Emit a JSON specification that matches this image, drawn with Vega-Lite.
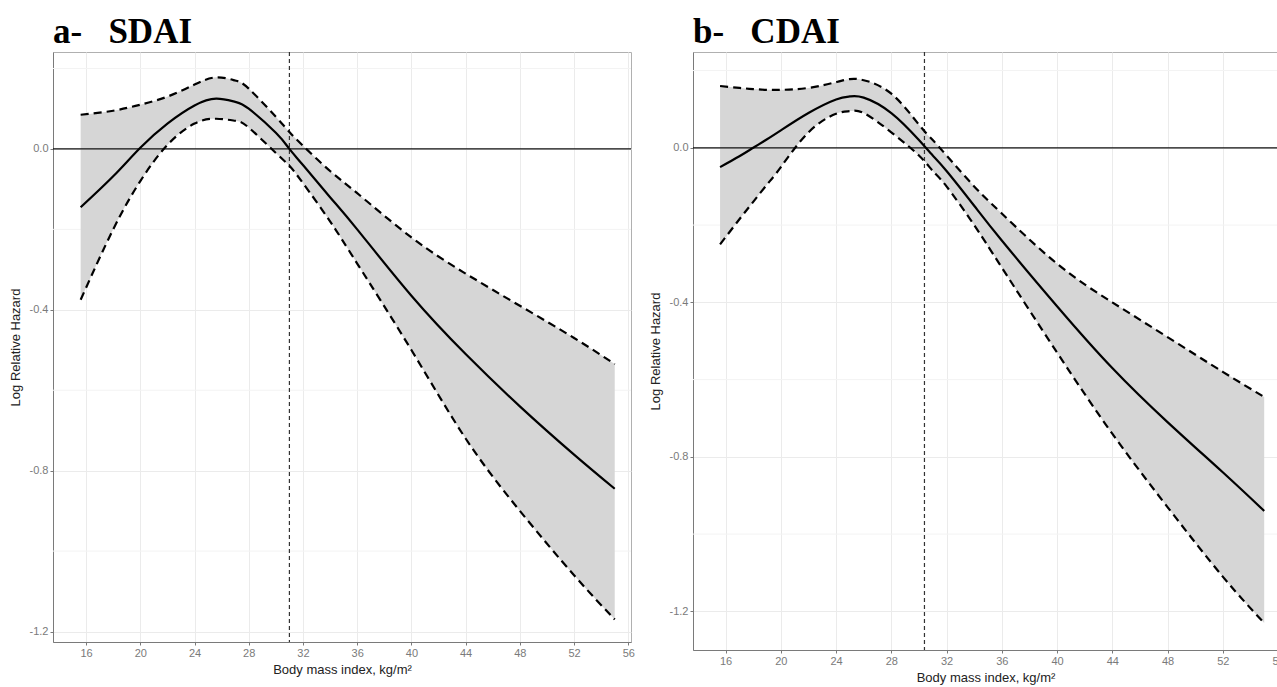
{
  "$schema": "https://vega.github.io/schema/vega-lite/v6.json",
  "background": "white",
  "padding": {"left": 8, "top": 14, "right": 0, "bottom": 0},
  "spacing": 13,
  "datasets": {
    "sdai": [
      {"bmi": 15.6, "est": -0.145, "lo": -0.375, "hi": 0.085},
      {"bmi": 18, "est": -0.068, "lo": -0.2, "hi": 0.095},
      {"bmi": 20, "est": 0.003, "lo": -0.08, "hi": 0.11},
      {"bmi": 22, "est": 0.063, "lo": 0.01, "hi": 0.13},
      {"bmi": 24, "est": 0.108, "lo": 0.063, "hi": 0.16},
      {"bmi": 25.6, "est": 0.125, "lo": 0.075, "hi": 0.178},
      {"bmi": 27, "est": 0.117, "lo": 0.07, "hi": 0.17},
      {"bmi": 28, "est": 0.1, "lo": 0.053, "hi": 0.15},
      {"bmi": 30, "est": 0.04, "lo": -0.01, "hi": 0.08},
      {"bmi": 31, "est": 0.0, "lo": -0.042, "hi": 0.042},
      {"bmi": 32, "est": -0.04, "lo": -0.085, "hi": 0.008},
      {"bmi": 34, "est": -0.12, "lo": -0.18, "hi": -0.055},
      {"bmi": 36, "est": -0.2, "lo": -0.285, "hi": -0.11},
      {"bmi": 40, "est": -0.365, "lo": -0.5, "hi": -0.22},
      {"bmi": 44, "est": -0.51, "lo": -0.72, "hi": -0.31},
      {"bmi": 48, "est": -0.64, "lo": -0.9, "hi": -0.39},
      {"bmi": 52, "est": -0.76, "lo": -1.06, "hi": -0.47},
      {"bmi": 55, "est": -0.845, "lo": -1.17, "hi": -0.535}
    ],
    "cdai": [
      {"bmi": 15.6, "est": -0.05, "lo": -0.25, "hi": 0.16},
      {"bmi": 17, "est": -0.022, "lo": -0.185, "hi": 0.155},
      {"bmi": 18, "est": 0.0, "lo": -0.14, "hi": 0.152},
      {"bmi": 19, "est": 0.022, "lo": -0.095, "hi": 0.15},
      {"bmi": 20, "est": 0.045, "lo": -0.05, "hi": 0.15},
      {"bmi": 22, "est": 0.09, "lo": 0.04, "hi": 0.155},
      {"bmi": 24, "est": 0.125, "lo": 0.088, "hi": 0.17},
      {"bmi": 25, "est": 0.133, "lo": 0.095, "hi": 0.178},
      {"bmi": 26, "est": 0.13, "lo": 0.09, "hi": 0.175},
      {"bmi": 28, "est": 0.09, "lo": 0.04, "hi": 0.14},
      {"bmi": 30, "est": 0.02, "lo": -0.02, "hi": 0.06},
      {"bmi": 31, "est": -0.02, "lo": -0.06, "hi": 0.02},
      {"bmi": 32, "est": -0.06, "lo": -0.1, "hi": -0.02},
      {"bmi": 34, "est": -0.15, "lo": -0.2, "hi": -0.1},
      {"bmi": 36, "est": -0.24, "lo": -0.31, "hi": -0.17},
      {"bmi": 40, "est": -0.41, "lo": -0.53, "hi": -0.3},
      {"bmi": 44, "est": -0.57, "lo": -0.74, "hi": -0.4},
      {"bmi": 48, "est": -0.71, "lo": -0.93, "hi": -0.49},
      {"bmi": 52, "est": -0.84, "lo": -1.11, "hi": -0.58},
      {"bmi": 55, "est": -0.94, "lo": -1.23, "hi": -0.645}
    ]
  },
  "hconcat": [
    {
      "width": 578,
      "height": 590,
      "title": {"text": "a-\u00a0\u00a0\u00a0SDAI"},
      "data": {"name": "sdai"},
      "layer": [
        {
          "data": {"values": [{"g": 0.2}, {"g": -0.2}, {"g": -0.6}, {"g": -1.0}]},
          "mark": {"type": "rule", "color": "#f3f3f3", "strokeWidth": 1},
          "encoding": {
            "y": {"field": "g", "type": "quantitative", "title": "Log Relative Hazard", "scale": {"domain": [-1.226, 0.241], "zero": false, "nice": false},
              "axis": {"values": [-1.2, -0.8, -0.4, 0], "labelExpr": "replace(format(datum.value, '.1f'), '\u2212', '-')"}}
          }
        },
        {
          "mark": {"type": "area", "color": "#d6d6d6", "opacity": 1, "interpolate": "natural"},
          "encoding": {
            "x": {"field": "bmi", "type": "quantitative", "title": "Body mass index, kg/m\u00b2", "scale": {"domain": [13.56, 56.2], "zero": false, "nice": false},
              "axis": {"values": [16, 20, 24, 28, 32, 36, 40, 44, 48, 52, 56]}},
            "y": {"field": "lo", "type": "quantitative", "title": "Log Relative Hazard"},
            "y2": {"field": "hi"}
          }
        },
        {
          "data": {"values": [{"z": 0}]},
          "mark": {"type": "rule", "color": "#111111", "strokeWidth": 1.2},
          "encoding": {"y": {"field": "z", "type": "quantitative", "title": "Log Relative Hazard"}}
        },
        {
          "data": {"values": [{"v": 31}]},
          "mark": {"type": "rule", "color": "#333333", "strokeWidth": 1.2, "strokeDash": [4, 3]},
          "encoding": {"x": {"field": "v", "type": "quantitative", "title": "Body mass index, kg/m\u00b2"}}
        },
        {
          "mark": {"type": "line", "color": "#000000", "strokeWidth": 2.2, "strokeDash": [8, 5], "interpolate": "natural"},
          "encoding": {
            "x": {"field": "bmi", "type": "quantitative", "title": "Body mass index, kg/m\u00b2"},
            "y": {"field": "hi", "type": "quantitative", "title": "Log Relative Hazard"}
          }
        },
        {
          "mark": {"type": "line", "color": "#000000", "strokeWidth": 2.2, "strokeDash": [8, 5], "interpolate": "natural"},
          "encoding": {
            "x": {"field": "bmi", "type": "quantitative", "title": "Body mass index, kg/m\u00b2"},
            "y": {"field": "lo", "type": "quantitative", "title": "Log Relative Hazard"}
          }
        },
        {
          "mark": {"type": "line", "color": "#000000", "strokeWidth": 2.2, "interpolate": "natural"},
          "encoding": {
            "x": {"field": "bmi", "type": "quantitative", "title": "Body mass index, kg/m\u00b2"},
            "y": {"field": "est", "type": "quantitative", "title": "Log Relative Hazard"}
          }
        }
      ]
    },
    {
      "width": 585,
      "height": 598,
      "title": {"text": "b-\u00a0\u00a0\u00a0CDAI"},
      "data": {"name": "cdai"},
      "layer": [
        {
          "data": {"values": [{"g": 0.2}, {"g": -0.2}, {"g": -0.6}, {"g": -1.0}]},
          "mark": {"type": "rule", "color": "#f3f3f3", "strokeWidth": 1},
          "encoding": {
            "y": {"field": "g", "type": "quantitative", "title": "Log Relative Hazard", "scale": {"domain": [-1.30, 0.248], "zero": false, "nice": false},
              "axis": {"values": [-1.2, -0.8, -0.4, 0], "labelExpr": "replace(format(datum.value, '.1f'), '\u2212', '-')"}}
          }
        },
        {
          "mark": {"type": "area", "color": "#d6d6d6", "opacity": 1, "interpolate": "natural"},
          "encoding": {
            "x": {"field": "bmi", "type": "quantitative", "title": "Body mass index, kg/m\u00b2", "scale": {"domain": [13.64, 56.0], "zero": false, "nice": false},
              "axis": {"values": [16, 20, 24, 28, 32, 36, 40, 44, 48, 52, 56]}},
            "y": {"field": "lo", "type": "quantitative", "title": "Log Relative Hazard"},
            "y2": {"field": "hi"}
          }
        },
        {
          "data": {"values": [{"z": 0}]},
          "mark": {"type": "rule", "color": "#111111", "strokeWidth": 1.2},
          "encoding": {"y": {"field": "z", "type": "quantitative", "title": "Log Relative Hazard"}}
        },
        {
          "data": {"values": [{"v": 30.4}]},
          "mark": {"type": "rule", "color": "#333333", "strokeWidth": 1.2, "strokeDash": [4, 3]},
          "encoding": {"x": {"field": "v", "type": "quantitative", "title": "Body mass index, kg/m\u00b2"}}
        },
        {
          "mark": {"type": "line", "color": "#000000", "strokeWidth": 2.2, "strokeDash": [8, 5], "interpolate": "natural"},
          "encoding": {
            "x": {"field": "bmi", "type": "quantitative", "title": "Body mass index, kg/m\u00b2"},
            "y": {"field": "hi", "type": "quantitative", "title": "Log Relative Hazard"}
          }
        },
        {
          "mark": {"type": "line", "color": "#000000", "strokeWidth": 2.2, "strokeDash": [8, 5], "interpolate": "natural"},
          "encoding": {
            "x": {"field": "bmi", "type": "quantitative", "title": "Body mass index, kg/m\u00b2"},
            "y": {"field": "lo", "type": "quantitative", "title": "Log Relative Hazard"}
          }
        },
        {
          "mark": {"type": "line", "color": "#000000", "strokeWidth": 2.2, "interpolate": "natural"},
          "encoding": {
            "x": {"field": "bmi", "type": "quantitative", "title": "Body mass index, kg/m\u00b2"},
            "y": {"field": "est", "type": "quantitative", "title": "Log Relative Hazard"}
          }
        }
      ]
    }
  ],
  "config": {
    "view": {"stroke": "#b0b0b0", "strokeWidth": 1},
    "axis": {
      "labelColor": "#7a7a7a",
      "labelFont": "Liberation Sans",
      "labelFontSize": 11,
      "labelFlush": false,
      "labelPadding": 2,
      "tickColor": "#7a7a7a",
      "tickSize": 3,
      "domainColor": "#7a7a7a",
      "gridColor": "#ebebeb",
      "grid": true,
      "titleFont": "Liberation Sans",
      "titleFontSize": 13,
      "titleFontWeight": "normal",
      "titleColor": "#222222"
    },
    "axisY": {"titlePadding": 7},
    "axisX": {"titlePadding": 5},
    "title": {
      "font": "Liberation Serif",
      "fontSize": 35,
      "fontWeight": "bold",
      "color": "#000000",
      "anchor": "start",
      "frame": "group",
      "offset": 1
    }
  }
}
